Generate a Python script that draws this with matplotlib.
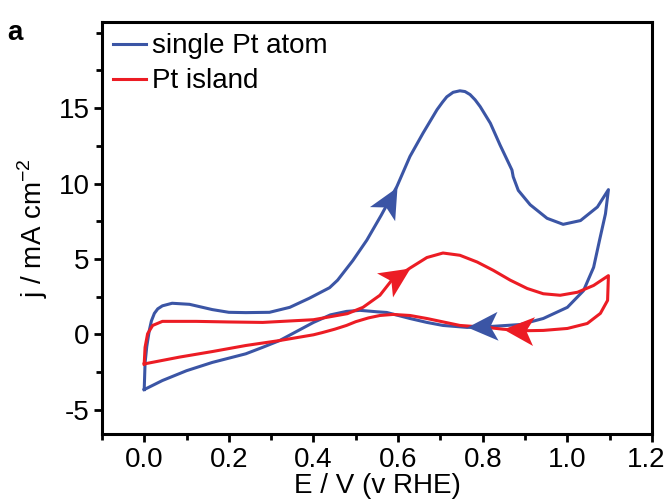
import matplotlib
matplotlib.use("Agg")
import numpy as np
import matplotlib.pyplot as plt
from matplotlib.markers import MarkerStyle
from matplotlib.path import Path
from matplotlib.transforms import Affine2D, ScaledTranslation
from matplotlib.ticker import MultipleLocator

plt.rcParams['font.family'] = ['Liberation Sans', 'DejaVu Sans']
plt.rcParams['axes.unicode_minus'] = False
plt.rcParams['mathtext.fontset'] = 'custom'
plt.rcParams['mathtext.rm'] = 'Liberation Sans'

# single Pt atom, forward (anodic) scan
atom_fwd_E = [0.0, 0.002, 0.006, 0.012, 0.017, 0.024, 0.032, 0.043, 0.066, 0.107, 0.161, 0.20,
              0.24, 0.296, 0.344, 0.39, 0.438, 0.457, 0.493, 0.526, 0.56, 0.597, 0.628, 0.659,
              0.692, 0.705, 0.715, 0.73, 0.746, 0.758, 0.770, 0.782, 0.794, 0.818, 0.841, 0.869,
              0.872, 0.884, 0.912, 0.952, 0.99, 1.031, 1.071, 1.097]
atom_fwd_j = [-3.65, -1.9, -0.8, 0.27, 0.9, 1.4, 1.7, 1.9, 2.07, 2.0, 1.65, 1.47,
              1.45, 1.47, 1.8, 2.4, 3.1, 3.6, 4.9, 6.25, 7.9, 9.8, 11.8, 13.35,
              14.9, 15.4, 15.75, 16.05, 16.15, 16.1, 15.9, 15.55, 15.1, 14.0, 12.55, 10.9,
              10.45, 9.55, 8.6, 7.7, 7.3, 7.55, 8.45, 9.6]
# single Pt atom, backward (cathodic) scan
atom_bwd_E = [1.097, 1.09, 1.076, 1.062, 1.038, 1.0, 0.943, 0.889, 0.818, 0.763, 0.706, 0.668,
              0.628, 0.573, 0.552, 0.51, 0.478, 0.44, 0.40, 0.36, 0.32, 0.28, 0.24, 0.161,
              0.1, 0.043, 0.0]
atom_bwd_j = [9.6, 8.0, 6.25, 4.45, 2.9, 1.8, 1.06, 0.66, 0.53, 0.47, 0.6, 0.8,
              1.06, 1.46, 1.5, 1.6, 1.53, 1.3, 0.8, 0.2, -0.4, -0.85, -1.28, -1.85,
              -2.4, -3.05, -3.65]

# Pt island, forward and backward scans
island_fwd_E = [0.0, 0.002, 0.008, 0.02, 0.043, 0.123, 0.20, 0.28, 0.40, 0.48, 0.517, 0.557,
                0.585, 0.628, 0.668, 0.706, 0.746, 0.787, 0.825, 0.865, 0.905, 0.943, 0.983,
                1.024, 1.062, 1.097]
island_fwd_j = [-1.95, -0.85, 0.05, 0.6, 0.87, 0.87, 0.83, 0.8, 0.98, 1.38, 1.8, 2.6,
                3.6, 4.4, 5.1, 5.4, 5.25, 4.8, 4.25, 3.6, 3.05, 2.7, 2.6,
                2.8, 3.25, 3.9]
island_bwd_E = [1.097, 1.095, 1.078, 1.047, 1.0, 0.943, 0.9, 0.848, 0.81, 0.746, 0.668, 0.628,
                0.588, 0.557, 0.53, 0.50, 0.478, 0.45, 0.42, 0.40, 0.32, 0.24, 0.161, 0.083, 0.0]
island_bwd_j = [3.9, 2.26, 1.4, 0.73, 0.4, 0.27, 0.25, 0.35, 0.47, 0.6, 1.06, 1.26,
                1.33, 1.26, 1.1, 0.85, 0.6, 0.35, 0.12, -0.02, -0.4, -0.73, -1.13, -1.5, -1.95]

# scan direction arrows: (tail E, tail j, tip E, tip j)
atom_arrows = [(0.575, 8.7, 0.597, 9.8), (0.818, 0.53, 0.763, 0.47)]
island_arrows = [(0.585, 3.6, 0.628, 4.4), (0.90, 0.25, 0.848, 0.35)]

blue = '#3b55a5'
red = '#ec1c24'

fig = plt.figure(figsize=(6.66, 5.03), dpi=100)
ax = fig.add_axes([0.153, 0.137, 0.826, 0.819])

ax.plot(atom_fwd_E + atom_bwd_E[1:], atom_fwd_j + atom_bwd_j[1:], color=blue, lw=2.2,
        solid_joinstyle='round', label='single Pt atom')
ax.plot(island_fwd_E + island_bwd_E[1:], island_fwd_j + island_bwd_j[1:], color=red, lw=2.2,
        solid_joinstyle='round', label='Pt island')

ax.set_xlim(-0.1, 1.2)
ax.set_ylim(-6.6, 20.7)

# notched arrowhead, tip at the origin
head = Path([(0, 0), (-1.8, 0.85), (-1.35, 0), (-1.8, -0.85), (0, 0)],
            [Path.MOVETO, Path.LINETO, Path.LINETO, Path.LINETO, Path.CLOSEPOLY])
fig.canvas.draw()
for arrs, c in [(atom_arrows, blue), (island_arrows, red)]:
    for x0, y0, x1, y1 in arrs:
        p0 = ax.transData.transform((x0, y0))
        p1 = ax.transData.transform((x1, y1))
        ang = np.degrees(np.arctan2(p1[1] - p0[1], p1[0] - p0[0]))
        m = MarkerStyle(head, transform=Affine2D().rotate_deg(ang))
        ax.plot([x1], [y1], marker=m, markersize=44, color=c, markeredgewidth=0, ls='none')

ax.xaxis.set_major_locator(MultipleLocator(0.2))
ax.xaxis.set_minor_locator(MultipleLocator(0.1))
ax.yaxis.set_major_locator(MultipleLocator(5))
ax.yaxis.set_minor_locator(MultipleLocator(2.5))
ax.set_yticks([-5, 0, 5, 10, 15])
ax.set_xticks([0.0, 0.2, 0.4, 0.6, 0.8, 1.0, 1.2])
ax.set_xticklabels(['0.0', '0.2', '0.4', '0.6', '0.8', '1.0', '1.2'])
ax.tick_params(which='major', direction='out', length=6, width=2, labelsize=20, pad=3)
ax.tick_params(which='minor', direction='out', length=4, width=2)
for s in ax.spines.values():
    s.set_linewidth(2.2)

# last x label sits at the figure edge
last = ax.get_xticklabels()[-1]
last.set_transform(last.get_transform() + ScaledTranslation(-6 / 100, 0, fig.dpi_scale_trans))

ax.set_xlabel('E / V (v RHE)', fontsize=20, labelpad=0)
ax.set_ylabel('j / mA cm$^{-2}$', fontsize=20, labelpad=6)

ax.legend(loc='upper left', frameon=False, fontsize=20, handlelength=1.2, handletextpad=0.2,
          borderaxespad=0.1, labelspacing=0.33, borderpad=0.3)

fig.text(0.011, 0.921, 'a', fontsize=20, fontweight='bold')

fig.savefig('out.png', dpi=100)
